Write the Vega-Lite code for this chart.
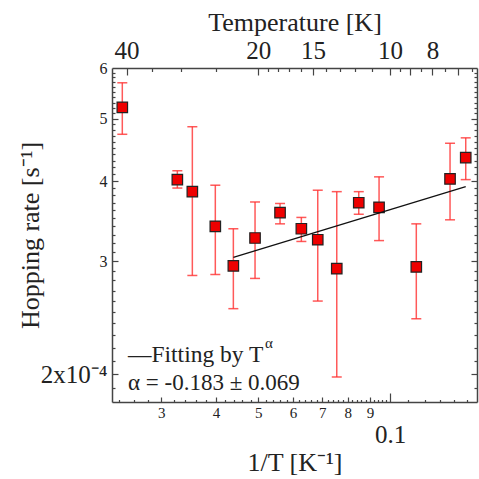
{
  "$schema": "https://vega.github.io/schema/vega-lite/v6.json",
  "width": 365,
  "height": 334,
  "autosize": {"type": "none"},
  "padding": {"left": 112, "top": 68, "right": 2, "bottom": 77},
  "background": "white",
  "config": {
    "view": {"stroke": null},
    "font": "Liberation Serif",
    "axis": {
      "grid": false,
      "domainColor": "#444",
      "domainWidth": 1.5,
      "tickColor": "#444",
      "tickWidth": 1.2,
      "labelColor": "#222",
      "titleColor": "#222",
      "labelFont": "Liberation Serif",
      "titleFont": "Liberation Serif",
      "titleFontWeight": "normal",
      "labelOverlap": false,
      "labelFlush": false
    }
  },
  "resolve": {"axis": {"x": "independent", "y": "independent"}},
  "data": {
    "values": [
      {"invT": 0.02444, "rate": 0.000521, "lo": 0.000473, "hi": 0.000569},
      {"invT": 0.03265, "rate": 0.000402, "lo": 0.000390, "hi": 0.000415},
      {"invT": 0.03533, "rate": 0.000385, "lo": 0.000285, "hi": 0.000486},
      {"invT": 0.03987, "rate": 0.000340, "lo": 0.000286, "hi": 0.000394},
      {"invT": 0.04384, "rate": 0.000295, "lo": 0.000253, "hi": 0.000337},
      {"invT": 0.04914, "rate": 0.000326, "lo": 0.000282, "hi": 0.000371},
      {"invT": 0.05605, "rate": 0.000357, "lo": 0.000343, "hi": 0.000369},
      {"invT": 0.06270, "rate": 0.000337, "lo": 0.000322, "hi": 0.000351},
      {"invT": 0.06835, "rate": 0.000324, "lo": 0.000260, "hi": 0.000387},
      {"invT": 0.07554, "rate": 0.000292, "lo": 0.000198, "hi": 0.000385},
      {"invT": 0.08481, "rate": 0.000370, "lo": 0.000355, "hi": 0.000385},
      {"invT": 0.09437, "rate": 0.000364, "lo": 0.000323, "hi": 0.000406},
      {"invT": 0.1148, "rate": 0.000294, "lo": 0.000244, "hi": 0.000343},
      {"invT": 0.1371, "rate": 0.000403, "lo": 0.000348, "hi": 0.000458},
      {"invT": 0.1489, "rate": 0.000435, "lo": 0.000402, "hi": 0.000467}
    ]
  },
  "layer": [
    {
      "mark": {"type": "rule", "color": "#ff3030", "opacity": 0.8, "strokeWidth": 1.5},
      "encoding": {
        "x": {
          "field": "invT", "type": "quantitative",
          "scale": {"type": "log", "domain": [0.02315, 0.158], "nice": false, "zero": false},
          "axis": {
            "orient": "bottom",
            "values": [0.03, 0.04, 0.05, 0.06, 0.07, 0.08, 0.09, 0.1],
            "ticks": false,
            "domain": true,
            "labelFont": "Liberation Serif",
            "labelExpr": "datum.value > 0.095 ? '0.1' : format(datum.value*100, '.0f')",
            "labelFontSize": {"condition": {"test": "datum.value > 0.095", "value": 25}, "value": 15},
            "labelPadding": {"condition": {"test": "datum.value > 0.095", "value": 20}, "value": 3},
            "title": "1/T [K⁻¹]",
            "titleFontSize": 26,
            "titlePadding": 2
          }
        },
        "y": {
          "field": "lo", "type": "quantitative",
          "scale": {"type": "log", "domain": [0.000181, 0.0006], "nice": false, "zero": false},
          "axis": {
            "orient": "left",
            "values": [0.0002, 0.0003, 0.0004, 0.0005, 0.0006],
            "ticks": false,
            "domain": true,
            "labelFont": "Liberation Serif",
            "labelExpr": "datum.value < 0.00025 ? '2x10⁻⁴' : format(datum.value*10000, '.0f')",
            "labelFontSize": {"condition": {"test": "datum.value < 0.00025", "value": 25}, "value": 16},
            "labelPadding": 5,
            "title": "Hopping rate [s⁻¹]",
            "titleFontSize": 26,
            "titlePadding": -3
          }
        },
        "y2": {"field": "hi"}
      }
    },
    {
      "mark": {"type": "tick", "orient": "horizontal", "color": "#ff3030", "opacity": 0.8, "thickness": 1.5, "size": 10},
      "encoding": {
        "x": {
          "field": "invT", "type": "quantitative",
          "scale": {"type": "log", "domain": [0.02315, 0.158], "nice": false, "zero": false},
          "axis": {
            "orient": "bottom",
            "values": [0.024, 0.026, 0.028, 0.03, 0.032, 0.034, 0.036, 0.038, 0.04, 0.042, 0.044, 0.046, 0.048, 0.05, 0.052, 0.054, 0.056, 0.058, 0.06, 0.062, 0.064, 0.066, 0.068, 0.07, 0.072, 0.074, 0.076, 0.078, 0.08, 0.082, 0.084, 0.086, 0.088, 0.09, 0.092, 0.094, 0.096, 0.098, 0.1, 0.11, 0.12, 0.13, 0.14, 0.15],
            "labels": false,
            "domain": false,
            "title": null,
            "tickSize": {"condition": [{"test": "abs(datum.value - 0.1) < 1e-9", "value": -9}, {"test": "datum.value < 0.1 && abs(datum.value*100 - round(datum.value*100)) < 1e-6", "value": -5}], "value": -2.5}
          }
        },
        "y": {
          "field": "lo", "type": "quantitative",
          "scale": {"type": "log", "domain": [0.000181, 0.0006], "nice": false, "zero": false},
          "axis": {
            "orient": "left",
            "values": [0.00019, 0.0002, 0.00021, 0.00022, 0.00023, 0.00024, 0.00025, 0.00026, 0.00027, 0.00028, 0.00029, 0.0003, 0.00031, 0.00032, 0.00033, 0.00034, 0.00035, 0.00036, 0.00037, 0.00038, 0.00039, 0.0004, 0.00041, 0.00042, 0.00043, 0.00044, 0.00045, 0.00046, 0.00047, 0.00048, 0.00049, 0.0005, 0.00051, 0.00052, 0.00053, 0.00054, 0.00055, 0.00056, 0.00057, 0.00058, 0.00059],
            "labels": false,
            "domain": false,
            "title": null,
            "tickSize": {"condition": {"test": "abs(datum.value*10000 - round(datum.value*10000)) < 1e-6", "value": -6}, "value": -3}
          }
        }
      }
    },
    {
      "mark": {"type": "tick", "orient": "horizontal", "color": "#ff3030", "opacity": 0.8, "thickness": 1.5, "size": 10},
      "encoding": {
        "x": {
          "field": "invT", "type": "quantitative",
          "scale": {"type": "log", "domain": [0.02315, 0.158], "nice": false, "zero": false},
          "axis": {
            "orient": "top",
            "values": [0.025, 0.05, 0.0666667, 0.1, 0.125],
            "ticks": false,
            "domain": true,
            "labelFont": "Liberation Serif",
            "labelExpr": "format(1/datum.value, '.0f')",
            "labelFontSize": 25,
            "labelPadding": 5,
            "title": "Temperature [K]",
            "titleFontSize": 26,
            "titlePadding": 3
          }
        },
        "y": {
          "field": "hi", "type": "quantitative",
          "scale": {"type": "log", "domain": [0.000181, 0.0006], "nice": false, "zero": false},
          "axis": {
            "orient": "right",
            "values": [0.00019, 0.0002, 0.00021, 0.00022, 0.00023, 0.00024, 0.00025, 0.00026, 0.00027, 0.00028, 0.00029, 0.0003, 0.00031, 0.00032, 0.00033, 0.00034, 0.00035, 0.00036, 0.00037, 0.00038, 0.00039, 0.0004, 0.00041, 0.00042, 0.00043, 0.00044, 0.00045, 0.00046, 0.00047, 0.00048, 0.00049, 0.0005, 0.00051, 0.00052, 0.00053, 0.00054, 0.00055, 0.00056, 0.00057, 0.00058, 0.00059],
            "labels": false,
            "domain": true,
            "title": null,
            "tickSize": {"condition": {"test": "abs(datum.value*10000 - round(datum.value*10000)) < 1e-6", "value": -6}, "value": -3}
          }
        }
      }
    },
    {
      "mark": {"type": "point", "shape": "square", "filled": true, "color": "#ee0000", "stroke": "#222", "strokeWidth": 1.2, "size": 110, "opacity": 1},
      "encoding": {
        "x": {
          "field": "invT", "type": "quantitative",
          "scale": {"type": "log", "domain": [0.02315, 0.158], "nice": false, "zero": false},
          "axis": {
            "orient": "top",
            "values": [0.025, 0.0285714, 0.0333333, 0.04, 0.05, 0.0526316, 0.0555556, 0.0588235, 0.0625, 0.0666667, 0.0714286, 0.0769231, 0.0833333, 0.0909091, 0.1, 0.1052632, 0.1111111, 0.1176471, 0.125, 0.1333333, 0.1428571, 0.1538462],
            "labels": false,
            "domain": false,
            "title": null,
            "tickSize": {"condition": {"test": "indexof([40, 20, 15, 10, 9, 8, 7], round(2/datum.value)/2) >= 0", "value": -7}, "value": -3.5}
          }
        },
        "y": {
          "field": "rate", "type": "quantitative",
          "scale": {"type": "log", "domain": [0.000181, 0.0006], "nice": false, "zero": false},
          "axis": null
        }
      }
    },
    {
      "data": {"values": [{"invT": 0.04384, "fit": 0.000304}, {"invT": 0.1489, "fit": 0.000392}]},
      "mark": {"type": "line", "color": "#111", "strokeWidth": 1.3},
      "encoding": {
        "x": {"field": "invT", "type": "quantitative", "scale": {"type": "log", "domain": [0.02315, 0.158], "nice": false, "zero": false}, "axis": null},
        "y": {"field": "fit", "type": "quantitative", "scale": {"type": "log", "domain": [0.000181, 0.0006], "nice": false, "zero": false}, "axis": null}
      }
    },
    {
      "data": {"values": [{"label": "—Fitting by T"}]},
      "mark": {"type": "text", "align": "left", "baseline": "alphabetic", "fontSize": 23.5, "color": "#222", "font": "Liberation Serif"},
      "encoding": {
        "x": {"datum": 0.02518, "type": "quantitative", "axis": null},
        "y": {"datum": 0.000209, "type": "quantitative", "axis": null},
        "text": {"field": "label"}
      }
    },
    {
      "data": {"values": [{"label": "α"}]},
      "mark": {"type": "text", "align": "left", "baseline": "alphabetic", "fontSize": 15, "color": "#222", "font": "Liberation Serif"},
      "encoding": {
        "x": {"datum": 0.0518, "type": "quantitative", "axis": null},
        "y": {"datum": 0.0002198, "type": "quantitative", "axis": null},
        "text": {"field": "label"}
      }
    },
    {
      "data": {"values": [{"label": "α = -0.183 ± 0.069"}]},
      "mark": {"type": "text", "align": "left", "baseline": "alphabetic", "fontSize": 23, "color": "#222", "font": "Liberation Serif"},
      "encoding": {
        "x": {"datum": 0.02518, "type": "quantitative", "axis": null},
        "y": {"datum": 0.000189, "type": "quantitative", "axis": null},
        "text": {"field": "label"}
      }
    }
  ]
}
